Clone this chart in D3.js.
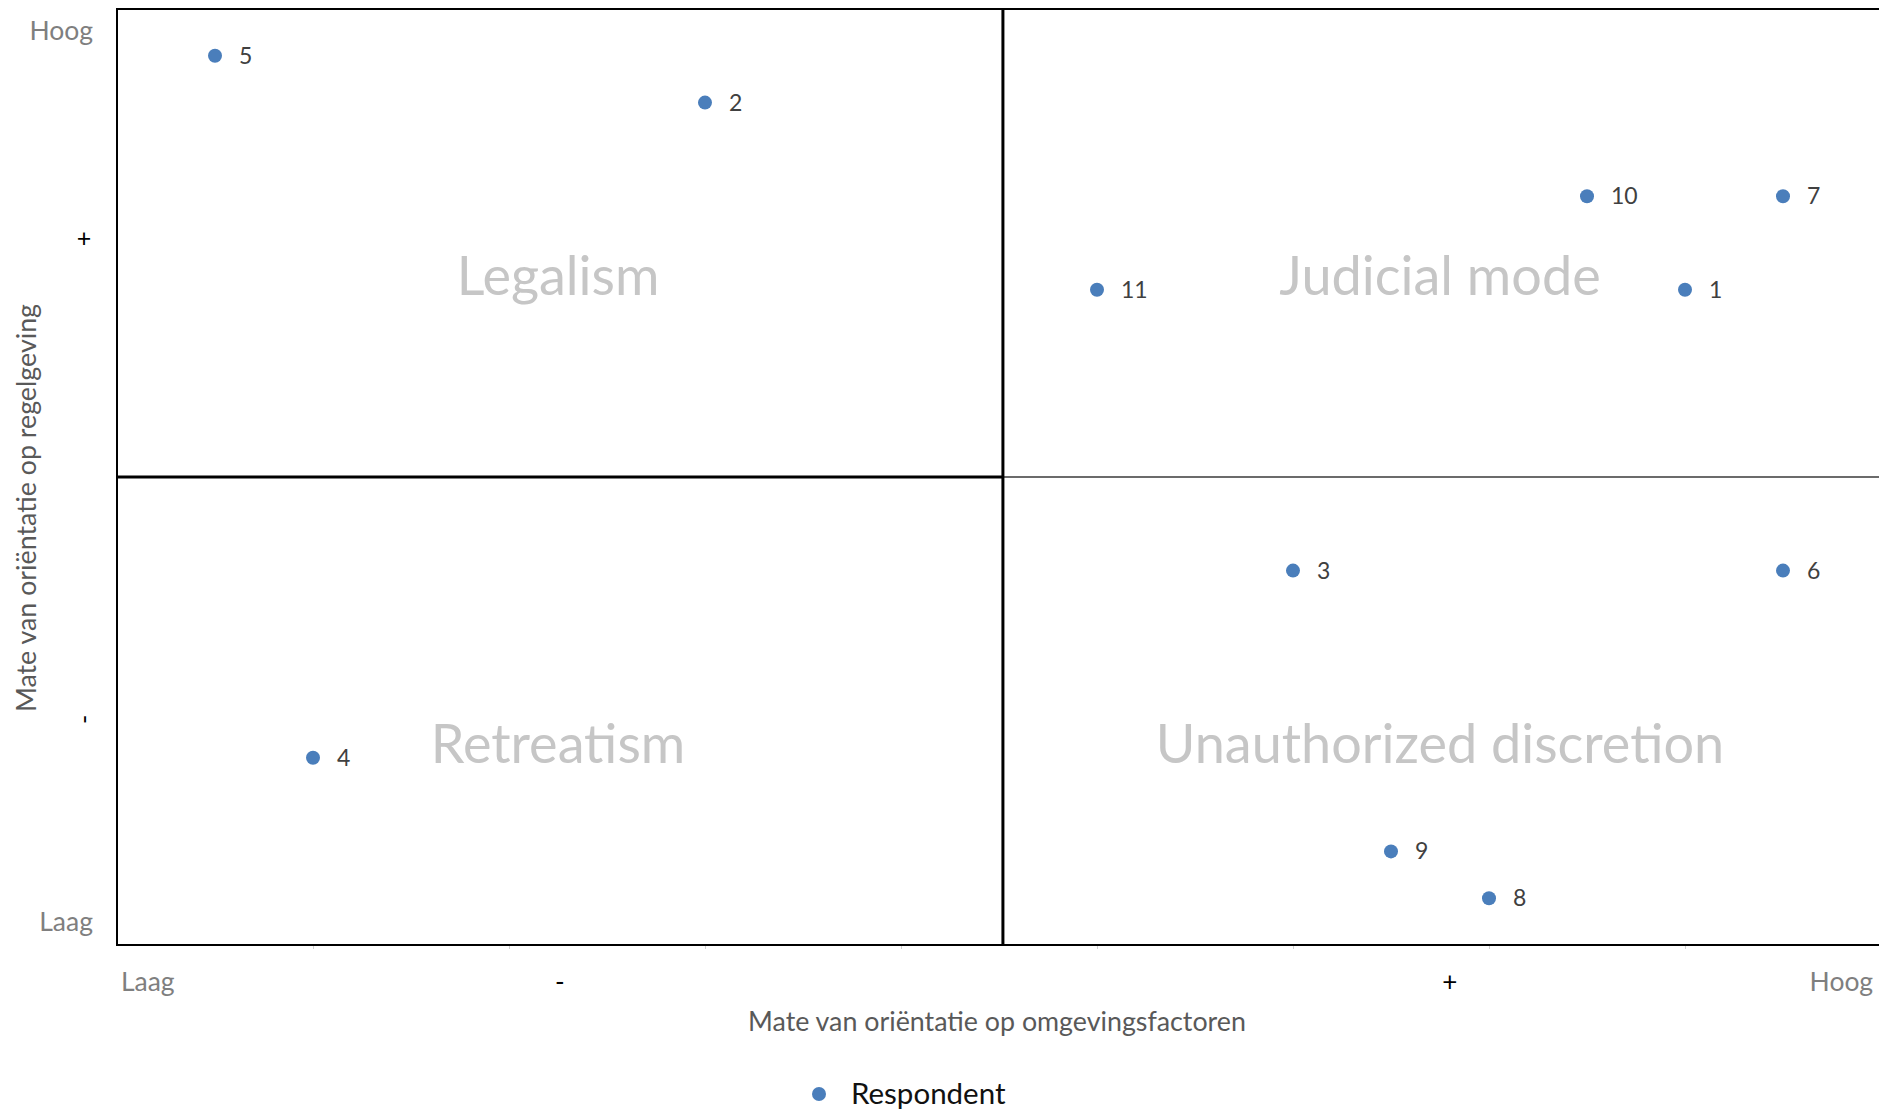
<!DOCTYPE html>
<html>
<head>
<meta charset="utf-8">
<script src="https://cdn.jsdelivr.net/npm/d3@7"></script>
<style>
  body { margin: 0; background: #fff; }
  svg { display: block; font-family: Lato, "Open Sans", sans-serif; }
</style>
</head>
<body>
<svg id="chart"></svg>
<script>
// Respondents and their scores (x: omgevingsfactoren, y: regelgeving)
var respondents = ["1", "2", "3", "4", "5", "6", "7", "8", "9", "10", "11"];
var xValues = [8, 3, 6, 1, 0.5, 8.5, 8.5, 7, 6.5, 7.5, 5];
var yValues = [7, 9, 4, 2, 9.5, 4, 8, 0.5, 1, 8, 7];

// Quadrant names and where they sit in data space
var quadrantNames = ["Legalism", "Judicial mode", "Retreatism", "Unauthorized discretion"];
var quadrantX = [2.25, 6.75, 2.25, 6.75];
var quadrantY = [7.15, 7.15, 2.15, 2.15];

// Axis labels
var xLabels = ["Laag", "-", "+", "Hoog"];
var xLabelValues = [0.02, 2.26, 6.8, 8.96];
var yLabels = ["Hoog", "+", "-", "Laag"];
var yLabelValues = [9.77, 7.55, 2.41, 0.25];

var xDomain = [0, 9];
var yDomain = [0, 10];
var xSplit = 4.52;
var ySplit = 5;

var width = 1879, height = 1111;
var plot = {left: 117, top: 9, right: 1881, bottom: 945};

var svg = d3.select("#chart")
            .attr("width", width)
            .attr("height", height);

var xScale = d3.scaleLinear()
               .domain(xDomain)
               .range([plot.left, plot.right]);

var yScale = d3.scaleLinear()
               .domain(yDomain)
               .range([plot.bottom, plot.top]);

// Small tick marks under the plot
svg.append("g")
   .attr("transform", "translate(0," + plot.bottom + ")")
   .call(d3.axisBottom(xScale).tickValues(d3.range(1, 9)).tickSize(4).tickFormat(""))
   .call(function(g) { g.select(".domain").remove(); })
   .call(function(g) { g.selectAll("line").attr("stroke", "#d0d0d0").attr("stroke-width", 1); });

// Plot border
svg.append("rect")
   .attr("x", xScale(xDomain[0]))
   .attr("y", yScale(yDomain[1]))
   .attr("width", xScale(xDomain[1]) - xScale(xDomain[0]))
   .attr("height", yScale(yDomain[0]) - yScale(yDomain[1]))
   .attr("fill", "none")
   .attr("stroke", "#000")
   .attr("stroke-width", 2);

// Quadrant dividers
svg.append("line")
   .attr("x1", xScale(xDomain[0])).attr("x2", xScale(xSplit))
   .attr("y1", yScale(ySplit)).attr("y2", yScale(ySplit))
   .attr("stroke", "#000").attr("stroke-width", 3);

svg.append("line")
   .attr("x1", xScale(xSplit)).attr("x2", xScale(xDomain[1]))
   .attr("y1", yScale(ySplit)).attr("y2", yScale(ySplit))
   .attr("stroke", "#3a3a3a").attr("stroke-width", 1.6);

svg.append("line")
   .attr("x1", xScale(xSplit)).attr("x2", xScale(xSplit))
   .attr("y1", yScale(yDomain[0])).attr("y2", yScale(yDomain[1]))
   .attr("stroke", "#000").attr("stroke-width", 3);

// Quadrant names
svg.selectAll(".quadrant")
   .data(quadrantNames)
   .enter()
   .append("text")
   .classed("quadrant", true)
   .attr("x", function(d, i) { return xScale(quadrantX[i]); })
   .attr("y", function(d, i) { return yScale(quadrantY[i]); })
   .attr("dy", "0.35em")
   .attr("text-anchor", "middle")
   .attr("font-size", 54)
   .attr("fill", "#c6c6c6")
   .text(function(d) { return d; });

// Y side labels
svg.selectAll(".y-label")
   .data(yLabels)
   .enter()
   .append("text")
   .classed("y-label", true)
   .attr("x", function(d) { return (d === "+" || d === "-") ? 84 : 93; })
   .attr("y", function(d, i) { return yScale(yLabelValues[i]); })
   .attr("dy", "0.35em")
   .attr("text-anchor", function(d) { return (d === "+" || d === "-") ? "middle" : "end"; })
   .attr("transform", function(d, i) { return d === "-" ? "rotate(-90," + 84 + "," + yScale(yLabelValues[i]) + ")" : null; })
   .attr("font-size", function(d) { return (d === "+" || d === "-") ? 25 : 26.5; })
   .attr("fill", function(d) { return (d === "+" || d === "-") ? "#000" : "#7f7f7f"; })
   .text(function(d) { return d; });

// X side labels
svg.selectAll(".x-label")
   .data(xLabels)
   .enter()
   .append("text")
   .classed("x-label", true)
   .attr("x", function(d, i) { return xScale(xLabelValues[i]); })
   .attr("y", plot.bottom + 37)
   .attr("dy", "0.35em")
   .attr("text-anchor", function(d) { return d === "Laag" ? "start" : (d === "Hoog" ? "end" : "middle"); })
   .attr("font-size", function(d) { return (d === "+" || d === "-") ? 26 : 26.5; })
   .attr("fill", function(d) { return (d === "+" || d === "-") ? "#000" : "#7f7f7f"; })
   .text(function(d) { return d; });

// Axis titles
svg.append("text")
   .attr("x", 997)
   .attr("y", plot.bottom + 77)
   .attr("dy", "0.35em")
   .attr("text-anchor", "middle")
   .attr("font-size", 26.8)
   .attr("fill", "#595959")
   .text("Mate van oriëntatie op omgevingsfactoren");

svg.append("text")
   .attr("transform", "translate(27," + 508 + ") rotate(-90)")
   .attr("dy", "0.35em")
   .attr("text-anchor", "middle")
   .attr("font-size", 26.8)
   .attr("fill", "#595959")
   .text("Mate van oriëntatie op regelgeving");

// Respondent points
svg.selectAll(".dot")
   .data(respondents)
   .enter()
   .append("circle")
   .classed("dot", true)
   .attr("cx", function(d, i) { return xScale(xValues[i]); })
   .attr("cy", function(d, i) { return yScale(yValues[i]); })
   .attr("r", 7)
   .attr("fill", "#4a7ebb");

svg.selectAll(".dot-label")
   .data(respondents)
   .enter()
   .append("text")
   .classed("dot-label", true)
   .attr("x", function(d, i) { return xScale(xValues[i]) + 24; })
   .attr("y", function(d, i) { return yScale(yValues[i]); })
   .attr("dy", "0.35em")
   .attr("font-size", 23)
   .attr("fill", "#404040")
   .text(function(d) { return d; });

// Legend
var legend = svg.append("g")
                .attr("transform", "translate(819,1094)");

legend.append("circle")
      .attr("r", 7)
      .attr("fill", "#4a7ebb");

legend.append("text")
      .attr("x", 32)
      .attr("dy", "0.33em")
      .attr("font-size", 29.5)
      .attr("fill", "#111")
      .text("Respondent");
</script>
</body>
</html>
